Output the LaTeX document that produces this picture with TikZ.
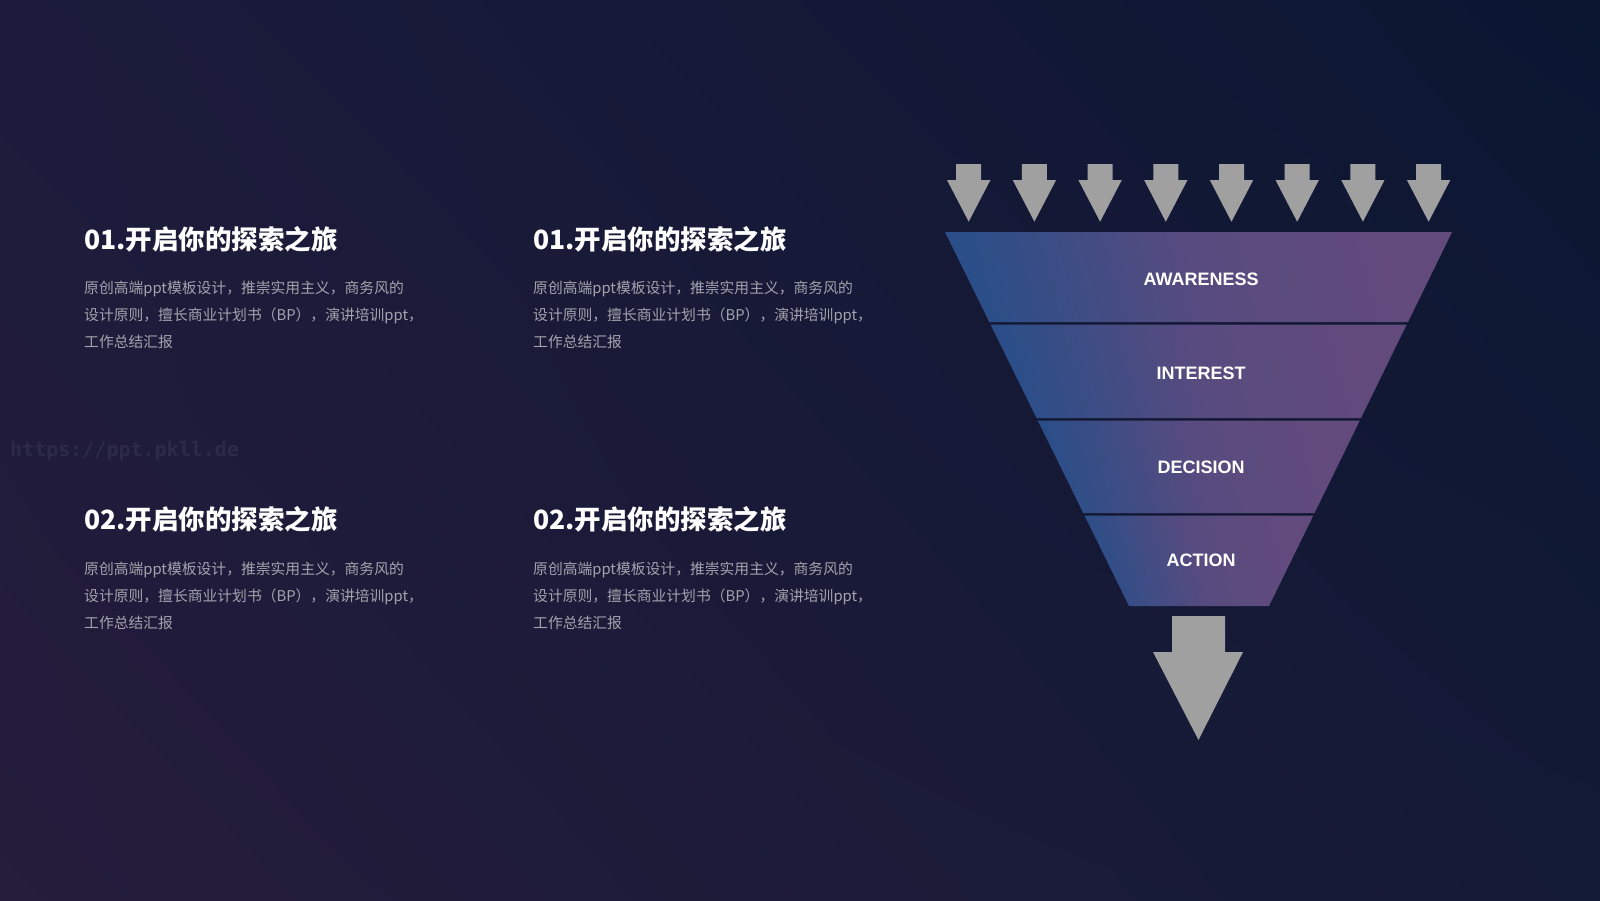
\documentclass[tikz,border=0pt]{standalone}
\usepackage{fontspec}
\usetikzlibrary{shadings}
\setmainfont{Liberation Sans}
\newfontfamily\cjk{Noto Sans CJK SC}
\newfontfamily\wmfont{DejaVu Sans Mono}
\definecolor{bgUL}{HTML}{1C1B3B}
\definecolor{bgUR}{HTML}{0B1631}
\definecolor{bgLL}{HTML}{261C3C}
\definecolor{bgLR}{HTML}{131A36}
\definecolor{funL}{HTML}{2C4E88}
\definecolor{funM}{HTML}{584B7F}
\definecolor{funR}{HTML}{634A7C}
\definecolor{arrowgray}{HTML}{A0A0A0}
\definecolor{bodygray}{HTML}{A3A3AD}
\definecolor{wmcol}{HTML}{2B2A49}
\begin{document}
\begin{tikzpicture}[x=1pt,y=-1pt,
  head/.style={anchor=base west, inner sep=0pt, text=white, font=\cjk\bfseries\fontsize{26.5}{30}\selectfont},
  body/.style={anchor=base west, inner sep=0pt, text=bodygray, font=\cjk\fontsize{14.8}{20}\selectfont},
  lab/.style={inner sep=0pt, text=white, font=\bfseries\fontsize{18}{20}\selectfont},
  arr/.style={fill=arrowgray},
  seg/.style={left color=funL, right color=funR, middle color=funM, shading angle=105}]
\useasboundingbox (0,0) rectangle (1600,900);
\shade[upper left=bgUL, upper right=bgUR, lower left=bgLL, lower right=bgLR] (0,0) rectangle (1600,900);

% watermark
\node[anchor=base west, inner sep=0pt, text=wmcol, font=\wmfont\bfseries\fontsize{20}{22}\selectfont] (wm) at (10,456) {https://ppt.pkll.de};

% text blocks
\foreach \c/\xx/\yy/\num in {a/84/249/01, b/533/249/01, c/84/529.5/02, d/533/529.5/02}{
  \node[head] (h\c) at (\xx,\yy) {\num.开启你的探索之旅};
  \node[body] (t\c1) at (\xx,\yy+44.5) {原创高端ppt模板设计，推崇实用主义，商务风的};
  \node[body] (t\c2) at (\xx,\yy+71.5) {设计原则，擅长商业计划书（BP），演讲培训ppt，};
  \node[body] (t\c3) at (\xx,\yy+98.5) {工作总结汇报};
}

% small arrows
\foreach \k in {0,...,7}{
  \pgfmathsetmacro{\cx}{968.7+65.7*\k}
  \fill[arr] ({\cx-12.5},164) -- ({\cx+12.5},164) -- ({\cx+12.5},180) -- ({\cx+21.7},180)
    -- (\cx,221.7) -- ({\cx-21.7},180) -- ({\cx-12.5},180) -- cycle;
}

% funnel segments
\shade[seg] (945,232) -- (1452,232) -- (1408.0,322) -- (989.3,322) -- cycle;
\shade[seg] (990.5,324.5) -- (1406.7,324.5) -- (1361.0,418) -- (1036.5,418) -- cycle;
\shade[seg] (1037.7,420.5) -- (1359.8,420.5) -- (1314.5,513) -- (1083.3,513) -- cycle;
\shade[seg] (1084.5,515.5) -- (1313.3,515.5) -- (1269,606) -- (1129,606) -- cycle;

\node[lab] (aw) at (1201,279) {AWARENESS};
\node[lab] (in) at (1201,373) {INTEREST};
\node[lab] (de) at (1201,467) {DECISION};
\node[lab] (ac) at (1201,560) {ACTION};

% big arrow
\fill[arr] (1172,616) -- (1225,616) -- (1225,652) -- (1243,652) -- (1198.5,740)
  -- (1153,652) -- (1172,652) -- cycle;
\end{tikzpicture}
\end{document}
